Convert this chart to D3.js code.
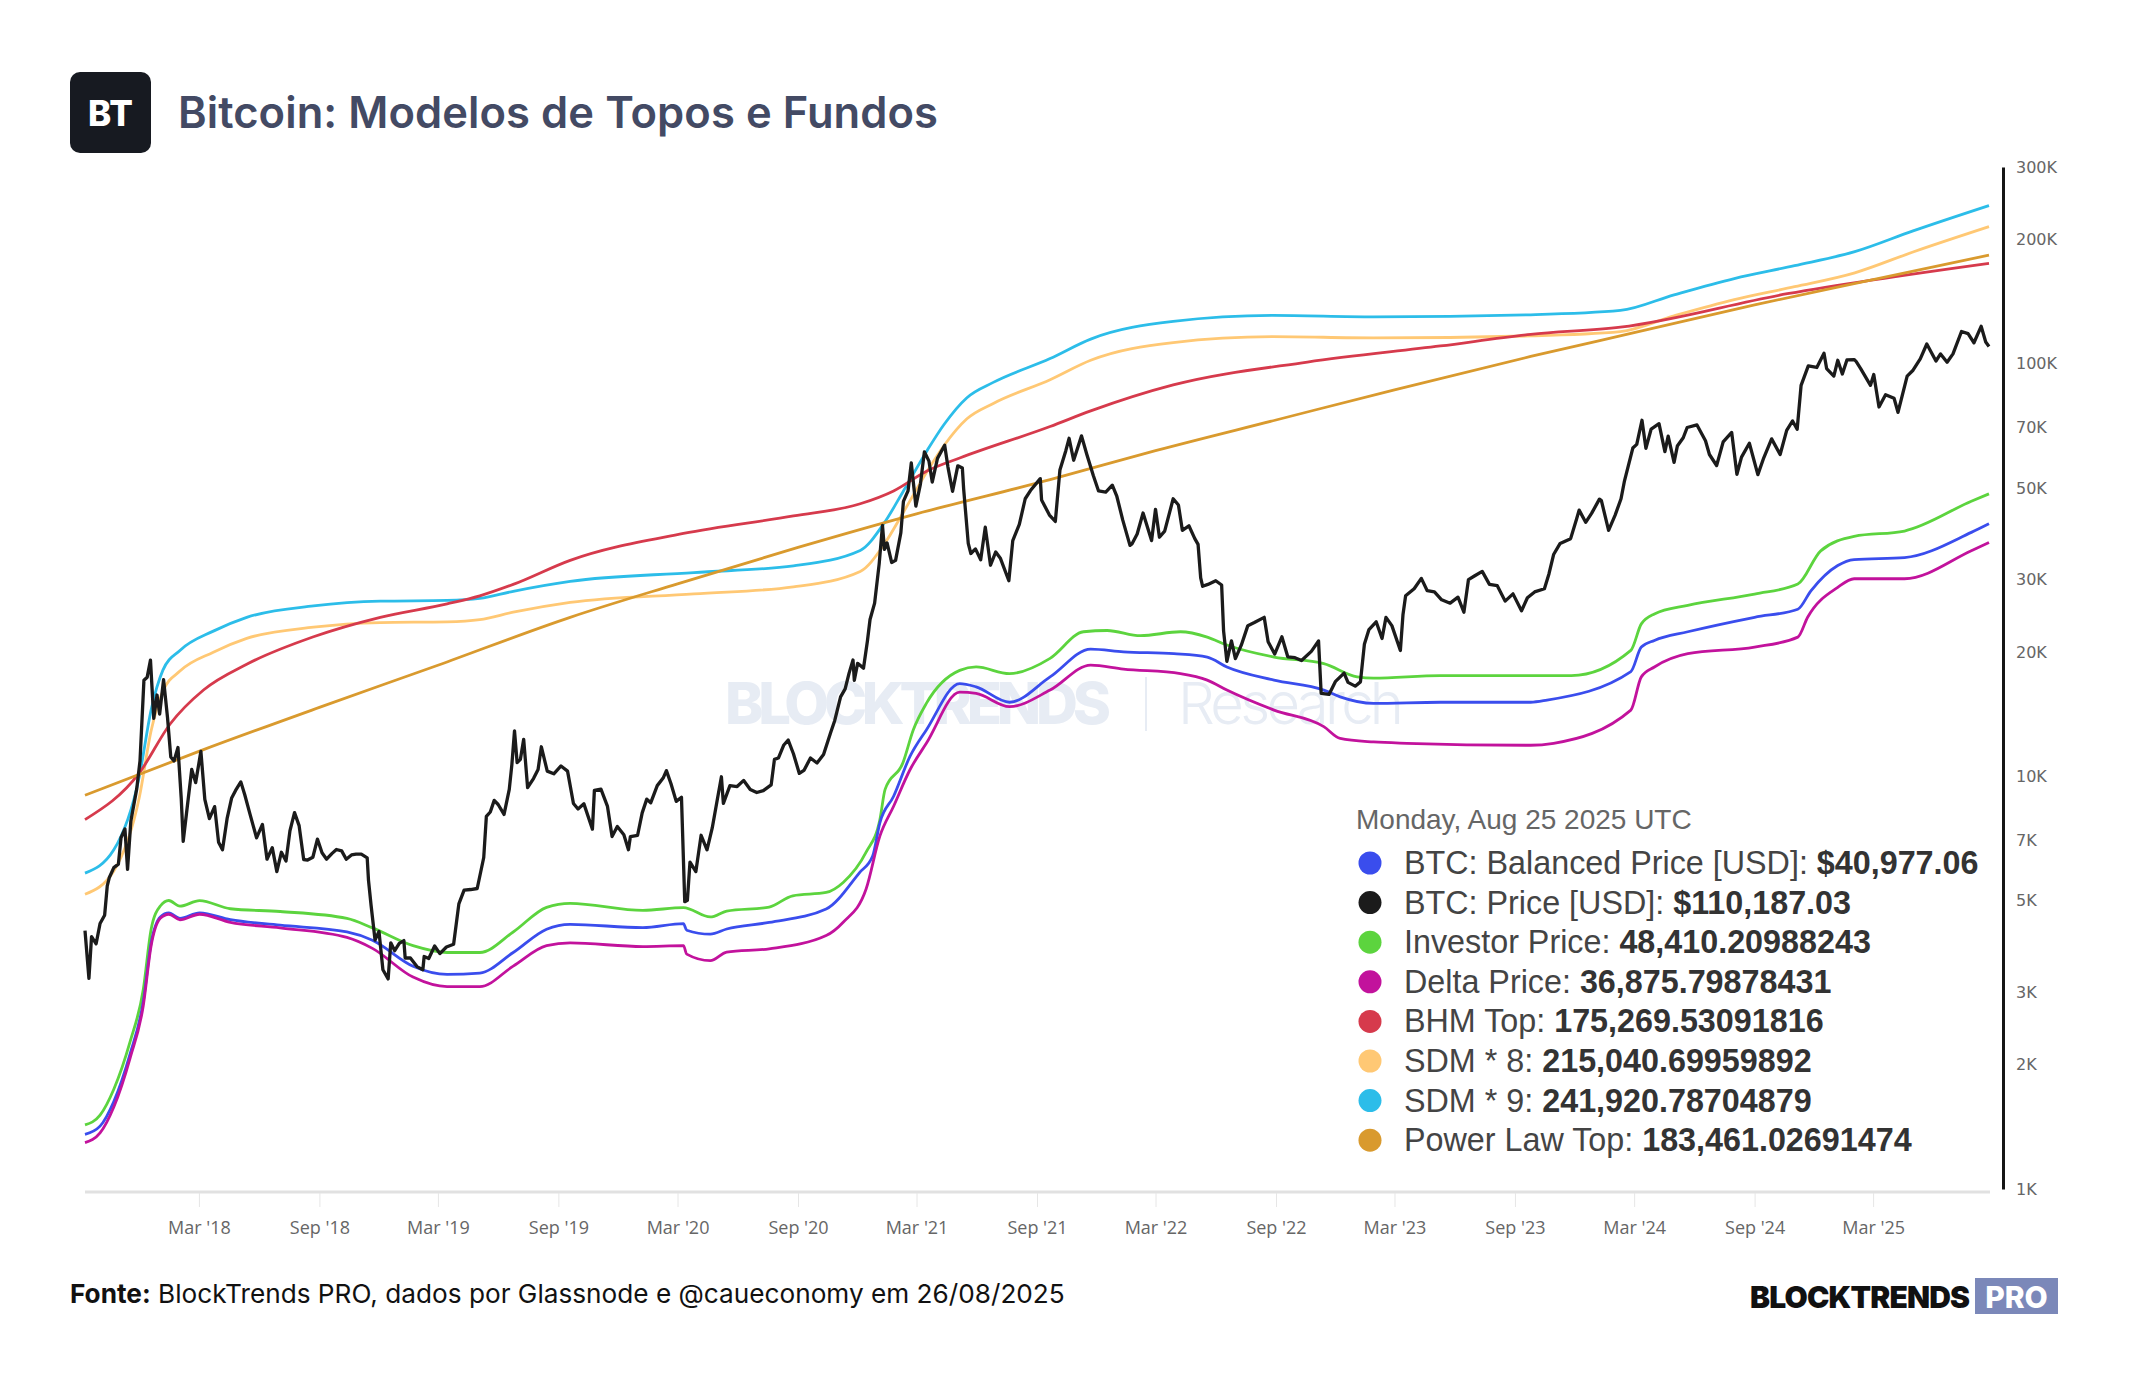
<!DOCTYPE html>
<html>
<head>
<meta charset="utf-8">
<script src="https://cdn.jsdelivr.net/npm/d3@7"></script>
<style>
  html, body { margin: 0; padding: 0; background: #fff; }
  svg { display: block; }
</style>
</head>
<body>
<script>
// BTC daily close, read roughly weekly plus the big swings
const btcPrice = [
  ["2017-09-08",4230],["2017-09-14",3240],["2017-09-18",4090],["2017-09-25",3930],["2017-10-01",4400],
  ["2017-10-08",4610],["2017-10-12",5430],["2017-10-15",5680],["2017-10-22",6010],["2017-10-29",6130],
  ["2017-11-02",7100],["2017-11-08",7460],["2017-11-12",5950],["2017-11-17",7790],["2017-11-26",9330],
  ["2017-12-01",10900],["2017-12-07",17100],["2017-12-12",17400],["2017-12-17",19140],["2017-12-22",13830],
  ["2017-12-27",15750],["2017-12-31",14160],["2018-01-06",17170],["2018-01-12",13900],["2018-01-17",11150],
  ["2018-01-22",10900],["2018-01-28",11750],["2018-02-02",8830],["2018-02-05",6960],["2018-02-10",8130],
  ["2018-02-18",10400],["2018-02-24",9660],["2018-03-04",11500],["2018-03-10",8800],["2018-03-17",7900],
  ["2018-03-25",8450],["2018-03-31",6930],["2018-04-06",6640],["2018-04-13",7900],["2018-04-20",8870],
  ["2018-04-26",9250],["2018-05-04",9700],["2018-05-10",9030],["2018-05-18",8100],["2018-05-28",7100],
  ["2018-06-06",7650],["2018-06-13",6300],["2018-06-21",6720],["2018-06-28",5880],["2018-07-05",6550],
  ["2018-07-12",6240],["2018-07-18",7380],["2018-07-25",8170],["2018-08-01",7600],["2018-08-08",6290],
  ["2018-08-14",6270],["2018-08-22",6370],["2018-08-29",7050],["2018-09-05",6530],["2018-09-12",6300],
  ["2018-09-20",6500],["2018-09-27",6650],["2018-10-05",6600],["2018-10-12",6300],["2018-10-20",6450],
  ["2018-10-27",6480],["2018-11-04",6480],["2018-11-13",6350],["2018-11-15",5600],["2018-11-19",4860],
  ["2018-11-25",4010],["2018-12-01",4210],["2018-12-07",3400],["2018-12-15",3230],["2018-12-19",3950],
  ["2018-12-25",3780],["2019-01-01",3940],["2019-01-08",4000],["2019-01-10",3630],["2019-01-18",3630],
  ["2019-01-28",3460],["2019-02-06",3400],["2019-02-08",3660],["2019-02-15",3620],["2019-02-24",3880],
  ["2019-03-04",3720],["2019-03-14",3860],["2019-03-25",3920],["2019-04-02",4910],["2019-04-10",5300],
  ["2019-04-20",5320],["2019-04-30",5350],["2019-05-10",6360],["2019-05-14",8000],["2019-05-20",8200],
  ["2019-05-26",8750],["2019-06-01",8550],["2019-06-10",8090],["2019-06-18",9300],["2019-06-22",10700],
  ["2019-06-26",12900],["2019-06-30",10800],["2019-07-05",11000],["2019-07-10",12300],["2019-07-16",9400],
  ["2019-07-25",9880],["2019-08-01",10400],["2019-08-06",11800],["2019-08-15",10300],["2019-08-25",10150],
  ["2019-09-05",10600],["2019-09-15",10300],["2019-09-24",8600],["2019-10-01",8340],["2019-10-10",8580],
  ["2019-10-23",7450],["2019-10-26",9250],["2019-11-05",9320],["2019-11-15",8460],["2019-11-22",7150],
  ["2019-11-30",7560],["2019-12-10",7220],["2019-12-17",6640],["2019-12-20",7150],["2019-12-31",7200],
  ["2020-01-07",8160],["2020-01-14",8810],["2020-01-20",8630],["2020-01-30",9500],["2020-02-08",9910],
  ["2020-02-13",10330],["2020-02-20",9600],["2020-02-28",8700],["2020-03-07",8900],["2020-03-12",4970],
  ["2020-03-16",5010],["2020-03-20",6200],["2020-03-29",5880],["2020-04-06",7200],["2020-04-15",6640],
  ["2020-04-23",7500],["2020-04-30",8660],["2020-05-07",9980],["2020-05-10",8600],["2020-05-20",9500],
  ["2020-05-31",9450],["2020-06-10",9780],["2020-06-20",9300],["2020-06-30",9140],["2020-07-10",9240],
  ["2020-07-22",9540],["2020-07-27",11000],["2020-08-02",11080],["2020-08-10",11900],["2020-08-17",12250],
  ["2020-08-25",11350],["2020-09-03",10170],["2020-09-10",10340],["2020-09-20",11080],["2020-09-30",10780],
  ["2020-10-10",11300],["2020-10-21",12800],["2020-10-27",13650],["2020-11-05",15590],["2020-11-12",16300],
  ["2020-11-18",17800],["2020-11-24",19150],["2020-11-26",17100],["2020-12-01",18800],["2020-12-10",18300],
  ["2020-12-16",21300],["2020-12-20",24000],["2020-12-27",26300],["2021-01-03",32800],["2021-01-08",40600],
  ["2021-01-11",35500],["2021-01-15",36800],["2021-01-22",33000],["2021-01-28",33400],["2021-02-05",38900],
  ["2021-02-09",46400],["2021-02-16",49200],["2021-02-21",57500],["2021-02-28",45200],["2021-03-07",51200],
  ["2021-03-13",61200],["2021-03-20",58100],["2021-03-25",51700],["2021-04-02",59000],["2021-04-13",63500],
  ["2021-04-18",56200],["2021-04-25",49100],["2021-05-03",56600],["2021-05-10",55900],["2021-05-12",49700],
  ["2021-05-19",36700],["2021-05-23",34700],["2021-05-30",35600],["2021-06-07",33500],["2021-06-14",40200],
  ["2021-06-22",32500],["2021-06-30",35000],["2021-07-07",33800],["2021-07-20",29800],["2021-07-26",37300],
  ["2021-08-05",40800],["2021-08-14",47100],["2021-08-22",49300],["2021-09-06",52700],["2021-09-08",46800],
  ["2021-09-20",43000],["2021-09-29",41500],["2021-10-06",55300],["2021-10-15",61600],["2021-10-20",66000],
  ["2021-10-27",58400],["2021-11-08",66900],["2021-11-16",60400],["2021-11-26",53600],["2021-12-04",49200],
  ["2021-12-15",48900],["2021-12-25",50800],["2022-01-01",47700],["2022-01-10",41800],["2022-01-21",36300],
  ["2022-01-24",36600],["2022-02-01",38700],["2022-02-10",43500],["2022-02-23",37300],["2022-03-01",44400],
  ["2022-03-07",38000],["2022-03-15",39300],["2022-03-28",47100],["2022-04-05",45500],["2022-04-11",39500],
  ["2022-04-21",40500],["2022-04-30",37700],["2022-05-05",36500],["2022-05-09",30300],["2022-05-12",28900],
  ["2022-05-20",29200],["2022-06-01",29800],["2022-06-10",29100],["2022-06-13",22500],["2022-06-18",19000],
  ["2022-06-25",21300],["2022-07-01",19300],["2022-07-10",20800],["2022-07-20",23200],["2022-07-30",23600],
  ["2022-08-14",24300],["2022-08-20",21200],["2022-08-30",19800],["2022-09-10",21800],["2022-09-19",19500],
  ["2022-09-30",19400],["2022-10-10",19100],["2022-10-25",20100],["2022-11-05",21300],["2022-11-09",15900],
  ["2022-11-21",15800],["2022-12-01",17000],["2022-12-14",17800],["2022-12-20",16900],["2022-12-31",16550],
  ["2023-01-08",16950],["2023-01-14",20900],["2023-01-21",22700],["2023-02-01",23700],["2023-02-10",21600],
  ["2023-02-16",24300],["2023-02-25",23200],["2023-03-10",20200],["2023-03-14",24700],["2023-03-18",27400],
  ["2023-03-31",28500],["2023-04-11",30200],["2023-04-20",28200],["2023-05-01",28000],["2023-05-12",26800],
  ["2023-05-25",26300],["2023-06-06",27200],["2023-06-15",25000],["2023-06-22",30000],["2023-07-01",30600],
  ["2023-07-13",31400],["2023-07-24",29200],["2023-08-05",29000],["2023-08-17",26600],["2023-08-29",27700],
  ["2023-09-11",25200],["2023-09-20",27100],["2023-10-01",28000],["2023-10-16",28500],["2023-10-23",31000],
  ["2023-10-30",34500],["2023-11-09",36700],["2023-11-25",37700],["2023-12-04",42000],["2023-12-08",44200],
  ["2023-12-18",41300],["2023-12-27",43400],["2024-01-08",47000],["2024-01-11",46600],["2024-01-22",39500],
  ["2024-02-01",43000],["2024-02-10",47100],["2024-02-15",51800],["2024-02-28",62500],["2024-03-05",63800],
  ["2024-03-13",73000],["2024-03-19",62400],["2024-03-27",69500],["2024-04-08",71600],["2024-04-17",61300],
  ["2024-04-22",66800],["2024-05-01",57700],["2024-05-06",63200],["2024-05-15",66200],["2024-05-21",70100],
  ["2024-06-05",71100],["2024-06-18",65100],["2024-06-24",60300],["2024-07-05",56700],["2024-07-15",64700],
  ["2024-07-28",68200],["2024-08-05",54000],["2024-08-12",59400],["2024-08-24",64200],["2024-09-06",53900],
  ["2024-09-15",59200],["2024-09-27",65800],["2024-10-10",60300],["2024-10-20",69000],["2024-10-29",72700],
  ["2024-11-05",69400],["2024-11-11",88700],["2024-11-22",98900],["2024-12-05",98000],["2024-12-16",106100],
  ["2024-12-20",97400],["2024-12-31",93400],["2025-01-06",102000],["2025-01-13",94500],["2025-01-20",102200],
  ["2025-01-31",102400],["2025-02-03",101400],["2025-02-10",97400],["2025-02-25",88700],["2025-03-02",94200],
  ["2025-03-10",78600],["2025-03-20",84200],["2025-04-02",82500],["2025-04-08",76300],["2025-04-22",93400],
  ["2025-05-01",96500],["2025-05-12",102800],["2025-05-22",111700],["2025-06-05",101600],["2025-06-12",105700],
  ["2025-06-22",100900],["2025-07-01",105700],["2025-07-14",119800],["2025-07-24",118400],["2025-08-02",112500],
  ["2025-08-13",123300],["2025-08-20",113000],["2025-08-25",110187]
];

const balancedPrice = [
  ["2017-09-08",1357],["2017-10-01",1420],["2017-10-22",1630],["2017-11-16",2128],["2017-12-06",2844],
  ["2017-12-18",3948],["2018-01-01",4564],["2018-01-14",4669],["2018-01-31",4529],["2018-03-02",4669],
  ["2018-04-18",4494],["2018-07-03",4360],["2018-10-13",4197],["2018-11-21",4009],["2019-01-22",3468],
  ["2019-03-15",3313],["2019-05-04",3338],["2019-06-24",3743],["2019-08-14",4263],["2019-09-19",4380],
  ["2020-01-08",4300],["2020-03-10",4397],["2020-03-15",4239],["2020-04-20",4146],["2020-05-15",4268],
  ["2020-07-19",4428],["2020-10-14",4771],["2020-12-04",5849],["2020-12-24",6414],["2021-01-04",7720],
  ["2021-01-25",8954],["2021-02-19",11180],["2021-03-16",12960],["2021-05-06",16790],["2021-05-31",16490],
  ["2021-07-21",15130],["2021-09-21",17430],["2021-11-22",20360],["2022-01-11",20050],["2022-03-29",19840],
  ["2022-05-19",19470],["2022-06-18",18420],["2022-08-29",17120],["2022-11-13",16190],["2022-12-08",15590],
  ["2023-01-28",15030],["2023-05-10",15130],["2023-09-25",15130],["2023-10-20",15310],["2024-02-25",17950],
  ["2024-03-12",20580],["2024-04-01",21360],["2024-05-22",22420],["2024-09-01",24310],["2024-11-06",25430],
  ["2024-11-26",28180],["2025-01-06",32450],["2025-01-31",33530],["2025-04-18",33920],["2025-07-29",39040],
  ["2025-08-25",40977]
];

const investorPrice = [
  ["2017-09-08",1430],["2017-10-01",1510],["2017-10-22",1745],["2017-11-16",2280],["2017-12-06",3046],
  ["2017-12-18",4263],["2018-01-01",4852],["2018-01-14",5003],["2018-01-31",4850],["2018-03-02",5000],
  ["2018-04-18",4778],["2018-07-03",4705],["2018-10-13",4529],["2018-11-21",4294],["2019-01-22",3888],
  ["2019-03-15",3743],["2019-05-04",3743],["2019-06-24",4197],["2019-08-14",4815],["2019-09-19",4926],
  ["2020-01-08",4735],["2020-03-10",4808],["2020-04-20",4564],["2020-05-15",4716],["2020-07-19",4823],
  ["2020-08-24",5137],["2020-10-14",5232],["2020-11-09",5532],["2020-12-14",6550],["2021-01-04",7850],
  ["2021-01-12",9300],["2021-02-08",10770],["2021-02-24",12960],["2021-03-16",15030],["2021-05-06",18070],
  ["2021-05-31",18420],["2021-07-21",17750],["2021-09-21",19330],["2021-11-11",22420],["2021-12-17",22580],
  ["2022-02-06",21930],["2022-04-08",22420],["2022-05-19",21760],["2022-06-18",20820],["2022-08-29",19470],
  ["2022-11-13",18770],["2023-01-03",17430],["2023-01-28",17300],["2023-05-10",17560],["2023-09-25",17560],
  ["2023-11-26",17560],["2024-02-25",20210],["2024-03-12",23430],["2024-04-01",24770],["2024-05-22",25990],
  ["2024-09-01",27670],["2024-11-06",29260],["2024-12-11",35220],["2025-01-31",38180],["2025-04-18",39340],
  ["2025-07-29",46450],["2025-08-25",48410]
];

const deltaPrice = [
  ["2017-09-08",1296],["2017-10-01",1367],["2017-10-22",1580],["2017-11-16",2080],["2017-12-06",2780],
  ["2017-12-18",3888],["2018-01-01",4529],["2018-01-14",4634],["2018-01-31",4494],["2018-03-02",4634],
  ["2018-04-18",4428],["2018-07-03",4294],["2018-10-13",4071],["2018-11-21",3830],["2019-01-22",3263],
  ["2019-03-15",3093],["2019-05-04",3093],["2019-06-24",3468],["2019-08-14",3888],["2019-09-19",3948],
  ["2020-01-08",3870],["2020-03-10",3891],["2020-03-15",3709],["2020-04-20",3576],["2020-05-15",3752],
  ["2020-07-19",3821],["2020-10-14",4115],["2020-11-09",4432],["2020-12-14",5333],["2021-01-04",7165],
  ["2021-01-25",8468],["2021-02-19",10380],["2021-03-16",12030],["2021-05-06",16000],["2021-05-31",15890],
  ["2021-07-21",14760],["2021-09-21",16190],["2021-11-22",18620],["2022-01-11",18210],["2022-04-08",17750],
  ["2022-05-19",17120],["2022-06-18",16190],["2022-08-29",14480],["2022-11-13",13200],["2022-12-08",12360],
  ["2023-01-28",12120],["2023-03-20",12030],["2023-09-25",11900],["2023-10-30",12030],["2024-02-25",14480],
  ["2024-03-12",17430],["2024-04-01",18420],["2024-05-22",19840],["2024-09-01",20580],["2024-11-06",21760],
  ["2024-11-21",24310],["2025-01-06",28720],["2025-01-31",30140],["2025-04-18",30140],["2025-07-29",35220],
  ["2025-08-25",36876]
];

const bhmTop = [
  ["2017-09-08",7860],["2017-11-30",10200],["2018-01-16",13400],["2018-03-08",16200],["2018-05-13",18700],
  ["2018-08-23",21800],["2018-12-03",24300],["2019-03-15",26200],["2019-05-04",27400],["2019-06-24",29200],
  ["2019-09-19",33400],["2020-03-10",38800],["2020-08-25",42800],["2020-12-05",45800],["2021-01-25",49200],
  ["2021-03-17",55000],["2021-05-07",59200],["2021-09-21",70500],["2021-11-22",76900],["2022-03-28",88900],
  ["2022-10-19",101000],["2023-05-10",110500],["2023-09-25",117900],["2024-02-09",122700],["2024-10-21",147900],
  ["2025-08-25",175270]
];

const sdm8 = [
  ["2017-09-08",5180],["2017-10-22",5900],["2017-11-30",8900],["2017-12-18",12900],["2018-01-05",16100],
  ["2018-01-31",18000],["2018-03-23",20000],["2018-05-13",21600],["2018-08-23",23000],["2018-12-03",23600],
  ["2019-03-15",23700],["2019-05-04",24000],["2019-06-24",25000],["2019-09-19",26400],["2020-03-26",27700],
  ["2020-08-25",28800],["2020-12-05",31400],["2021-01-10",36400],["2021-02-09",43700],["2021-03-17",54800],
  ["2021-04-12",63400],["2021-05-17",73600],["2021-06-27",80300],["2021-09-21",91500],["2021-11-22",102000],
  ["2022-03-28",112600],["2022-08-27",116400],["2023-01-28",115600],["2023-09-25",116900],["2024-02-09",119700],
  ["2024-05-01",130700],["2024-08-01",143100],["2024-11-01",153800],["2025-02-01",166200],["2025-05-01",186700],
  ["2025-08-25",215040]
];

const sdm9 = [
  ["2017-09-08",5830],["2017-10-22",6640],["2017-11-30",10000],["2017-12-18",14500],["2018-01-05",18100],
  ["2018-01-31",20200],["2018-03-23",22500],["2018-05-13",24300],["2018-08-23",25900],["2018-12-03",26600],
  ["2019-03-15",26700],["2019-05-04",27000],["2019-06-24",28100],["2019-09-19",29700],["2020-03-26",31200],
  ["2020-08-25",32400],["2020-12-05",35300],["2021-01-10",41000],["2021-02-09",49200],["2021-03-17",61600],
  ["2021-04-12",71300],["2021-05-17",82800],["2021-06-27",90300],["2021-09-21",103000],["2021-11-22",114800],
  ["2022-03-28",126700],["2022-08-27",131000],["2023-01-28",130000],["2023-09-25",131500],["2024-02-09",134700],
  ["2024-05-01",147000],["2024-08-01",161000],["2024-11-01",173000],["2025-02-01",187000],["2025-05-01",210000],
  ["2025-08-25",241920]
];

const powerLawTop = [
  ["2017-09-08",9000],["2018-03-01",11500],["2018-09-01",14700],["2019-03-01",18600],["2019-09-19",24300],
  ["2020-03-01",29300],["2020-09-01",35900],["2021-03-01",43300],["2021-09-21",52400],["2022-03-01",61600],
  ["2022-09-01",73100],["2023-03-01",86500],["2023-09-25",104200],["2024-03-01",119000],["2024-09-01",139000],
  ["2025-03-01",160000],["2025-08-25",183461]
];

const xTickDates = ["2018-03-01","2018-09-01","2019-03-01","2019-09-01","2020-03-01","2020-09-01","2021-03-01",
  "2021-09-01","2022-03-01","2022-09-01","2023-03-01","2023-09-01","2024-03-01","2024-09-01","2025-03-01"];
const xTickLabels = ["Mar '18","Sep '18","Mar '19","Sep '19","Mar '20","Sep '20","Mar '21",
  "Sep '21","Mar '22","Sep '22","Mar '23","Sep '23","Mar '24","Sep '24","Mar '25"];
const yTickValues = [1000,2000,3000,5000,7000,10000,20000,30000,50000,70000,100000,200000,300000];
const yTickLabels = ["1K","2K","3K","5K","7K","10K","20K","30K","50K","70K","100K","200K","300K"];

const legendDate = "Monday, Aug 25 2025 UTC";
const legendLabels = ["BTC: Balanced Price [USD]: ","BTC: Price [USD]: ","Investor Price: ","Delta Price: ",
  "BHM Top: ","SDM * 8: ","SDM * 9: ","Power Law Top: "];
const legendValues = ["$40,977.06","$110,187.03","48,410.20988243","36,875.79878431",
  "175,269.53091816","215,040.69959892","241,920.78704879","183,461.02691474"];

// same order as the legend
const series = [balancedPrice, btcPrice, investorPrice, deltaPrice, bhmTop, sdm8, sdm9, powerLawTop];
const colors = ["#3a4ded", "#1b1b1b", "#5cd43e", "#c2129c", "#d63a4c", "#ffc874", "#2cbde9", "#d99a2e"];

const W = 2144, H = 1400;
const parse = d3.utcParse("%Y-%m-%d");

const svg = d3.select("body").append("svg")
  .attr("width", W)
  .attr("height", H)
  .style("font-family", "Inter, 'Noto Sans', sans-serif");

// header
svg.append("rect")
  .attr("x", 70).attr("y", 72)
  .attr("width", 81).attr("height", 81)
  .attr("rx", 10)
  .attr("fill", "#171a21");
svg.append("text")
  .attr("x", 110.5).attr("y", 113)
  .attr("text-anchor", "middle")
  .attr("dominant-baseline", "central")
  .attr("fill", "#fff")
  .attr("font-size", 35)
  .attr("font-weight", 800)
  .text("BT");
svg.append("text")
  .attr("x", 178).attr("y", 128)
  .attr("fill", "#434a64")
  .attr("font-size", 43.5)
  .attr("font-weight", 600)
  .attr("textLength", 760)
  .text("Bitcoin: Modelos de Topos e Fundos");

// watermark
const wm = svg.append("g").attr("fill", "#e7ecf4");
wm.append("text")
  .attr("x", 725).attr("y", 724)
  .attr("font-size", 58)
  .attr("font-weight", 800)
  .attr("textLength", 386)
  .text("BLOCKTRENDS");
wm.append("rect")
  .attr("x", 1145).attr("y", 677)
  .attr("width", 2).attr("height", 54);
wm.append("text")
  .attr("x", 1178).attr("y", 724)
  .attr("font-size", 58)
  .attr("font-weight", 300)
  .attr("textLength", 226)
  .text("Research");

// scales
const x = d3.scaleUtc()
  .domain([parse("2017-09-08"), parse("2025-08-25")])
  .range([85, 1989]);
const y = d3.scaleLog()
  .domain([1000, 300000])
  .range([1189, 167]);

// x axis
svg.append("line")
  .attr("x1", 85).attr("x2", 1990)
  .attr("y1", 1192).attr("y2", 1192)
  .attr("stroke", "#e1e1e1")
  .attr("stroke-width", 3);
const xAxis = svg.append("g")
  .attr("transform", "translate(0,1193)")
  .call(d3.axisBottom(x)
    .tickValues(xTickDates.map(parse))
    .tickFormat((d, i) => xTickLabels[i])
    .tickSize(14)
    .tickPadding(14));
xAxis.select(".domain").remove();
xAxis.selectAll(".tick line").attr("stroke", "#e6e6e6");
xAxis.selectAll(".tick text")
  .attr("fill", "#666")
  .style("font-family", "'Open Sans', sans-serif")
  .style("font-size", "18px");

// y axis
const yAxis = svg.append("g")
  .attr("transform", "translate(2003,0)")
  .call(d3.axisRight(y)
    .tickValues(yTickValues)
    .tickFormat((d, i) => yTickLabels[i])
    .tickSize(0)
    .tickPadding(13));
yAxis.select(".domain")
  .attr("stroke", "#151515")
  .attr("stroke-width", 3);
yAxis.selectAll(".tick text")
  .attr("fill", "#666")
  .style("font-family", "'DejaVu Sans', Verdana, sans-serif")
  .style("font-size", "16px");

// lines
const line = d3.line()
  .x(d => x(parse(d[0])))
  .y(d => y(d[1]));
const smooth = d3.line()
  .x(d => x(parse(d[0])))
  .y(d => y(d[1]))
  .curve(d3.curveMonotoneX);

const order = [6, 5, 4, 7, 2, 0, 3, 1];
order.forEach(i => {
  svg.append("path")
    .datum(series[i])
    .attr("fill", "none")
    .attr("stroke", colors[i])
    .attr("stroke-width", i === 1 ? 3.3 : 2.8)
    .attr("stroke-linejoin", "round")
    .attr("d", i === 1 ? line : smooth);
});

// legend
const lg = svg.append("g").style("font-family", "'Liberation Sans', Arial, sans-serif");
lg.append("text")
  .attr("x", 1356).attr("y", 829)
  .attr("fill", "#666")
  .attr("font-size", 28)
  .text(legendDate);
legendLabels.forEach((lab, i) => {
  const cy = 863 + i * 39.6;
  lg.append("circle")
    .attr("cx", 1370).attr("cy", cy)
    .attr("r", 11.5)
    .attr("fill", colors[i]);
  const t = lg.append("text")
    .attr("x", 1404).attr("y", cy + 11)
    .attr("font-size", 32.3)
    .attr("fill", "#444");
  t.append("tspan").text(lab);
  t.append("tspan").attr("font-weight", 700).attr("fill", "#333").text(legendValues[i]);
});

// footer
const ft = svg.append("text")
  .attr("x", 70).attr("y", 1303)
  .attr("font-size", 26.2)
  .attr("fill", "#111");
ft.append("tspan").attr("font-weight", 700).text("Fonte:");
ft.append("tspan").text(" BlockTrends PRO, dados por Glassnode e @caueconomy em 26/08/2025");

svg.append("text")
  .attr("x", 1750).attr("y", 1308)
  .attr("font-size", 30)
  .attr("font-weight", 900)
  .attr("fill", "#111")
  .attr("textLength", 220)
  .text("BLOCKTRENDS");
svg.append("rect")
  .attr("x", 1975).attr("y", 1278)
  .attr("width", 83).attr("height", 36)
  .attr("fill", "#7b88b9");
svg.append("text")
  .attr("x", 2016.5).attr("y", 1308)
  .attr("text-anchor", "middle")
  .attr("font-size", 30)
  .attr("font-weight", 800)
  .attr("fill", "#fff")
  .text("PRO");
</script>
</body>
</html>
